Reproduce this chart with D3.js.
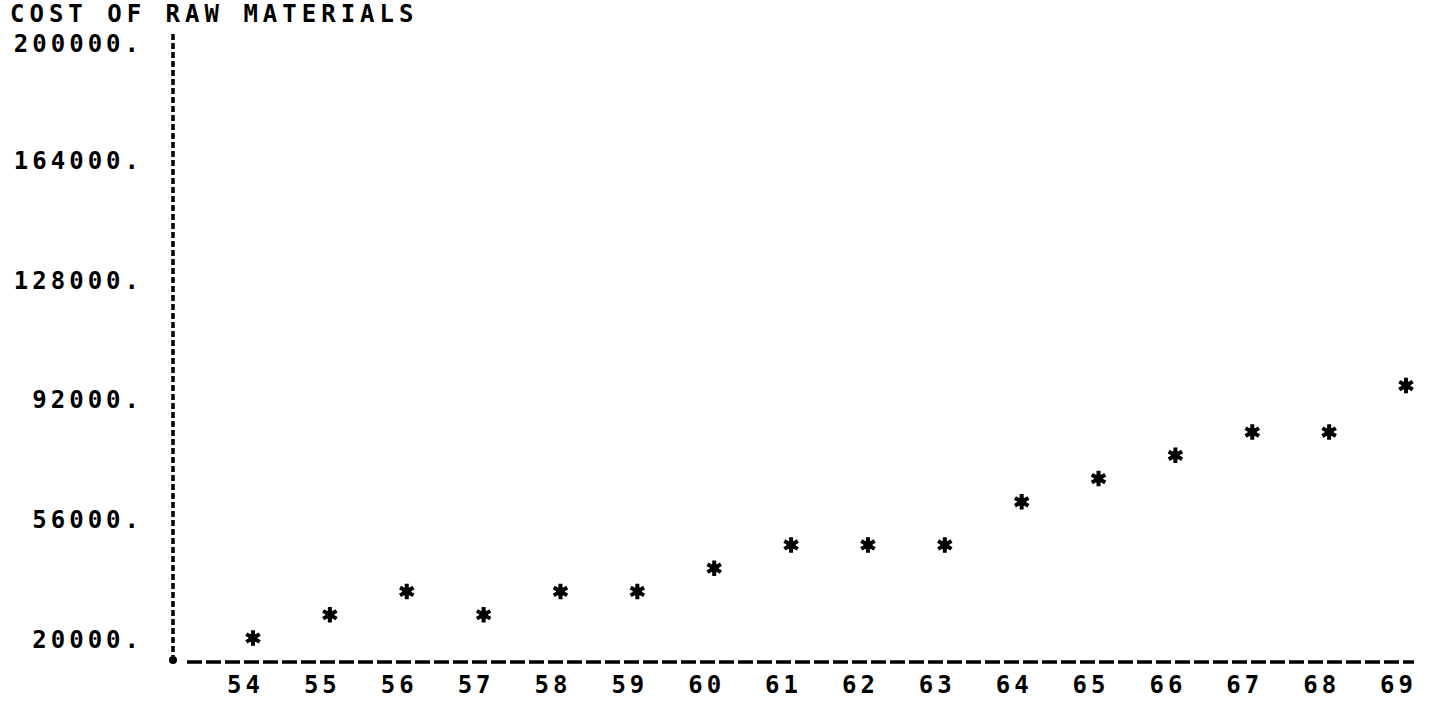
<!DOCTYPE html>
<html>
<head>
<meta charset="utf-8">
<script src="https://cdn.jsdelivr.net/npm/d3@7"></script>
<style>
  html, body { margin: 0; padding: 0; background: #fff; }
  svg { display: block; }
  text { font-family: "DejaVu Sans Mono", monospace; font-weight: bold; fill: #000; }
</style>
</head>
<body>
<svg id="chart"></svg>
<script>
// data
const years = [54, 55, 56, 57, 58, 59, 60, 61, 62, 63, 64, 65, 66, 67, 68, 69];
const cost = [20000, 27000, 34000, 27000, 34000, 34000, 41000, 48000, 48000, 48000, 61000, 68000, 75000, 82000, 82000, 96000];
const yTicks = [200000, 164000, 128000, 92000, 56000, 20000];
const title = "COST OF RAW MATERIALS";

const width = 1433, height = 720;
const axisX = 173, axisY = 662;
const fontSize = 24;

const svg = d3.select("#chart")
  .attr("width", width)
  .attr("height", height);

const x = d3.scaleLinear().domain([54, 69]).range([253, 1406]);
// 200000 sits at the top of the axis, 20000 just above the baseline
const y = d3.scaleLinear().domain([20000, 200000]).range([638, 40]);

// axes lines (dashed like the plotter output)
svg.append("line")
  .attr("x1", axisX).attr("x2", axisX)
  .attr("y1", 34).attr("y2", axisY - 6)
  .attr("stroke", "#000")
  .attr("stroke-width", 3.5)
  .attr("stroke-dasharray", "6,3");

svg.append("line")
  .attr("x1", 187).attr("x2", 1414)
  .attr("y1", axisY).attr("y2", axisY)
  .attr("stroke", "#000")
  .attr("stroke-width", 3.5)
  .attr("stroke-dasharray", "15,4");

svg.append("circle")
  .attr("cx", axisX).attr("cy", axisY - 2)
  .attr("r", 4)
  .attr("fill", "#000");

// y tick labels
const yAxis = d3.axisLeft(y)
  .tickValues(yTicks)
  .tickSize(0)
  .tickPadding(0)
  .tickFormat(d => d + ".");

const gy = svg.append("g")
  .attr("transform", "translate(" + 143 + ",0)")
  .call(yAxis);
gy.select(".domain").remove();
gy.selectAll("text")
  .attr("font-size", fontSize)
  .style("font-family", "\"DejaVu Sans Mono\", monospace")
  .style("font-weight", "bold")
  .style("letter-spacing", "4px")
  .attr("dy", d => d === d3.max(yTicks) ? "0.48em" : "0.38em");

// x tick labels
const xAxis = d3.axisBottom(x)
  .tickValues(years)
  .tickSize(0)
  .tickPadding(0)
  .tickFormat(d => d);

const gx = svg.append("g")
  .attr("transform", "translate(-10," + 676 + ")")
  .call(xAxis);
gx.select(".domain").remove();
gx.selectAll("text")
  .attr("font-size", fontSize)
  .style("font-family", "\"DejaVu Sans Mono\", monospace")
  .style("font-weight", "bold")
  .style("letter-spacing", "4px")
  .attr("dy", "0.71em")
  .attr("dx", "2px");

// title
svg.append("text")
  .attr("x", 10)
  .attr("y", 22)
  .attr("font-size", fontSize)
  .style("letter-spacing", "5px")
  .text(title);

// stars
const pts = svg.selectAll(".pt")
  .data(years.map((yr, i) => ({ yr: yr, v: cost[i] })))
  .enter()
  .append("g")
  .attr("class", "pt")
  .attr("transform", d => "translate(" + x(d.yr) + "," + y(d.v) + ")");

pts.append("path")
  .attr("d", d3.symbol().type(d3.symbolAsterisk).size(170))
  .attr("fill", "none")
  .attr("stroke", "#000")
  .attr("stroke-width", 4);

pts.append("circle")
  .attr("r", 4.5)
  .attr("fill", "#000");
</script>
</body>
</html>
